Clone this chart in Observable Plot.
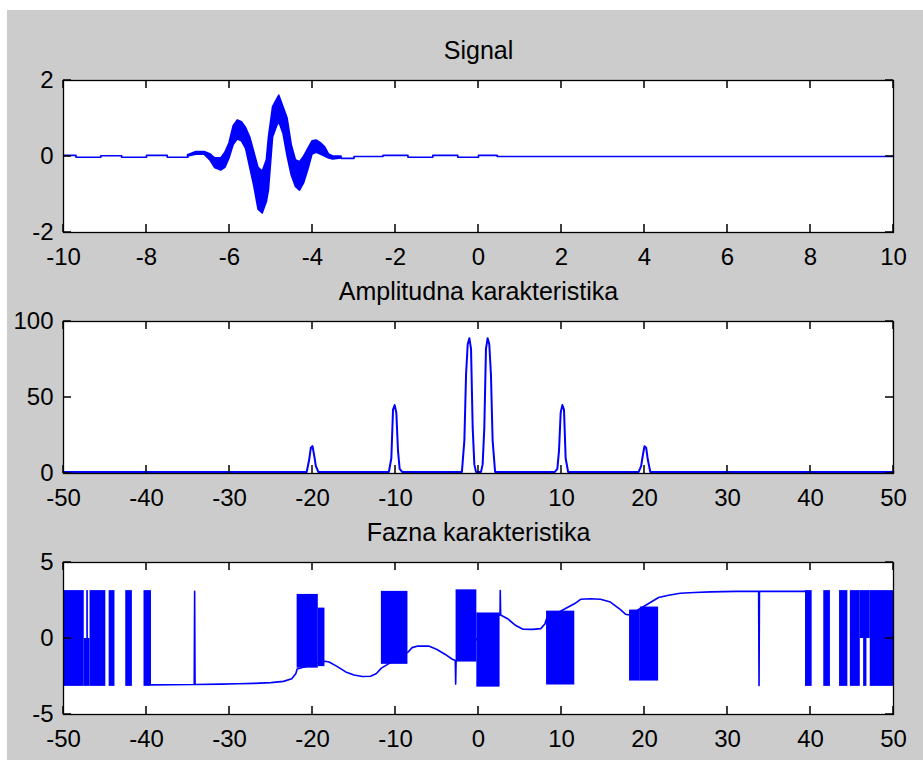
<!DOCTYPE html>
<html><head><meta charset="utf-8">
<script src="https://cdn.jsdelivr.net/npm/d3@7"></script>
<script src="https://cdn.jsdelivr.net/npm/@observablehq/plot@0.6"></script>
<style>
html,body{margin:0;padding:0;background:#ffffff;width:923px;height:760px;overflow:hidden;}
#fig{position:absolute;left:7px;top:10px;width:916px;height:750px;background:#cccccc;}
.sub{position:absolute;left:0;width:923px;}
</style></head><body>
<div id="fig"></div>
<div id="p1" class="sub" style="top:30px"></div>
<div id="p2" class="sub" style="top:271px"></div>
<div id="p3" class="sub" style="top:512px"></div>
<script>
// ---------- Data ----------
const titles = ["Signal", "Amplitudna karakteristika", "Fazna karakteristika"];

// Signal (time domain)
const sigXTicks = [-10, -8, -6, -4, -2, 0, 2, 4, 6, 8, 10];
const sigYTicks = [-2, 0, 2];
const sigHeadX = [-10, -9.7, -9.7, -9.1, -9.1, -8.6, -8.6, -8.0, -8.0, -7.5, -7.5, -7.0, -7.0];
const sigHeadY = [0.03, 0.03, -0.02, -0.02, 0.02, 0.02, -0.02, -0.02, 0.03, 0.03, -0.02, -0.02, 0];
const sigBandX = [-7.0, -6.8, -6.6, -6.45, -6.35, -6.2, -6.1, -6.0, -5.9, -5.8, -5.7, -5.6, -5.5, -5.4, -5.3, -5.2, -5.1, -5.05, -4.95, -4.85, -4.8, -4.7, -4.6, -4.5, -4.4, -4.3, -4.2, -4.1, -4.0, -3.9, -3.8, -3.7, -3.6, -3.5, -3.3];
const sigBandLo = [0, 0.05, 0.05, -0.12, -0.3, -0.37, -0.3, -0.05, 0.3, 0.45, 0.4, 0.2, -0.3, -0.8, -1.4, -1.5, -1.2, -0.9, 0.5, 0.8, 0.9, 0.6, 0.0, -0.5, -0.8, -0.9, -0.7, -0.35, 0.05, 0.1, 0.05, 0.0, -0.05, -0.08, -0.05];
const sigBandHi = [0.03, 0.12, 0.12, 0.05, -0.05, -0.05, 0.1, 0.35, 0.8, 0.95, 0.9, 0.75, 0.5, 0.1, -0.3, -0.4, -0.1, 0.5, 1.3, 1.5, 1.6, 1.3, 1.0, 0.3, -0.1, -0.15, 0.0, 0.2, 0.4, 0.42, 0.35, 0.25, 0.05, 0.0, 0.0];
const sigTailX = [-3.3, -3.0, -3.0, -2.3, -2.3, -1.7, -1.7, -1.1, -1.1, -0.5, -0.5, 0.0, 0.0, 0.45, 0.45, 10];
const sigTailY = [-0.05, -0.05, 0.0, 0.0, 0.03, 0.03, -0.02, -0.02, 0.03, 0.03, -0.02, -0.02, 0.03, 0.03, 0, 0];

// Amplitude spectrum
const freqTicks = [-50, -40, -30, -20, -10, 0, 10, 20, 30, 40, 50];
const ampYTicks = [0, 50, 100];
const ampX = [-50, -20.7, -20.4, -20.2, -20.0, -19.8, -19.6, -19.3,
  -10.8, -10.5, -10.3, -10.1, -9.9, -9.7, -9.5, -9.2,
  -2.0, -1.7, -1.5, -1.3, -1.1, -0.9, -0.7, -0.5, -0.3,
  0.3, 0.5, 0.7, 0.9, 1.1, 1.3, 1.5, 1.7, 2.0,
  9.2, 9.5, 9.7, 9.9, 10.1, 10.3, 10.5, 10.8,
  19.3, 19.6, 19.8, 20.0, 20.2, 20.4, 20.7, 50];
const ampY = [1, 1, 9, 17, 18, 12, 5, 1,
  1, 10, 42, 45, 40, 15, 3, 1,
  1, 22, 65, 85, 89, 82, 30, 6, 1,
  1, 6, 30, 82, 89, 85, 65, 22, 1,
  1, 3, 15, 40, 45, 42, 10, 1,
  1, 5, 12, 18, 17, 9, 1, 1];

// Phase spectrum
const phYTicks = [-5, 0, 5];
const phBlockX1 = [-50, -47.5, -47.2, -46.8, -44.5, -42.5, -40.3, -21.85, -19.3, -11.7, -2.7, -0.2, 8.2, 18.2, 19.5, 39.4, 41.6, 43.5, 44.8, 46.0, 46.4, 47.2];
const phBlockX2 = [-47.5, -46.8, -47.0, -44.9, -43.8, -41.7, -39.4, -19.3, -18.5, -8.5, -0.2, 2.6, 11.6, 19.5, 21.7, 40.2, 42.4, 44.5, 46.0, 47.2, 46.8, 50];
const phBlockY1 = [-3.15, -3.15, 0, -3.15, -3.15, -3.15, -3.15, -1.95, -1.85, -1.7, -1.55, -3.2, -3.06, -2.8, -2.8, -3.15, -3.15, -3.15, -3.15, 0, -3.15, -3.15];
const phBlockY2 = [3.15, 0, 3.15, 3.15, 3.15, 3.15, 3.15, 2.9, 2.0, 3.1, 3.2, 1.68, 1.8, 1.87, 2.07, 3.15, 3.15, 3.15, 3.15, 3.15, 0, 3.15];
const phLineX = [-39.4, -37, -34.25, -34.2, -34.15, -31, -29, -27, -25, -23.5, -22.5, -22.0, -21.85,
  -18.5, -18, -17, -16, -15, -14, -13, -12.3, -11.7,
  -8.5, -8.0, -7.3, -6, -5, -4, -3.2, -2.8, -2.75, -2.7,
  2.6, 2.62, 2.67, 3.5, 4.5, 5.3, 6.5, 7.5, 8.0, 8.2,
  11.6, 12.3, 13.5, 14.7, 15.9, 17.1, 17.7, 18.2,
  21.7, 22.9, 24.3, 26, 28, 31, 33.75, 33.8, 33.85, 39.4];
const phLineY = [-3.05, -3.04, -3.03, 3.1, -3.03, -3.0, -2.98, -2.95, -2.9, -2.82, -2.65, -2.3, -2.0,
  -1.5, -1.55, -1.85, -2.2, -2.4, -2.5, -2.48, -2.3, -1.95,
  -0.9, -0.6, -0.5, -0.5, -0.72, -1.05, -1.35, -1.45, -3.0, -1.5,
  1.6, 3.15, 1.55, 1.3, 0.85, 0.62, 0.6, 0.65, 0.95, 1.3,
  2.3, 2.58, 2.62, 2.58, 2.4, 1.9, 1.6, 1.55,
  2.7, 2.85, 2.98, 3.03, 3.07, 3.1, 3.1, -3.1, 3.1, 3.1];

// ---------- Drawing ----------
const blue = "#0000ff";
const font = '"Liberation Sans", Arial, Helvetica, sans-serif';
const fs = 24;
const tfs = 25;
const fmt = d => String(d);
const W = 923, H = 242, ML = 63, MR = 30, MT = 50, MB = 40;
const frameW = W - ML - MR, frameH = H - MT - MB;
const tl = 8;    // inward tick length, px
const tw = 1.5;  // tick thickness, px

function subplot(el, title, xDomain, xTicks, yDomain, yTicks, marks) {
  const [x0, x1] = xDomain, [y0, y1] = yDomain;
  const ly = (y1 - y0) * tl / frameH, lx = (x1 - x0) * tl / frameW;   // tick length in data units
  const wy = (y1 - y0) * tw / frameH / 2, wx = (x1 - x0) * tw / frameW / 2; // half thickness
  // tick rectangles (bottom, top) for x ticks and (left, right) for y ticks
  const xtA = xTicks.map(d => d - wx), xtB = xTicks.map(d => d + wx);
  const xtBot1 = xTicks.map(() => y0), xtBot2 = xTicks.map(() => y0 + ly);
  const xtTop1 = xTicks.map(() => y1 - ly), xtTop2 = xTicks.map(() => y1);
  const ytA = yTicks.map(d => d - wy), ytB = yTicks.map(d => d + wy);
  const ytL1 = yTicks.map(() => x0), ytL2 = yTicks.map(() => x0 + lx);
  const ytR1 = yTicks.map(() => x1 - lx), ytR2 = yTicks.map(() => x1);
  const p = Plot.plot({
    width: W, height: H,
    marginLeft: ML, marginRight: MR, marginTop: MT, marginBottom: MB,
    style: {background: "transparent", fontFamily: font, fontSize: fs + "px", color: "black", overflow: "visible"},
    x: {domain: xDomain, label: null},
    y: {domain: yDomain, label: null},
    marks: [
      Plot.frame({fill: "white"}),
      ...marks,
      Plot.rect(xtA, {x1: xtA, x2: xtB, y1: xtBot1, y2: xtBot2, fill: "#000000"}),
      Plot.rect(xtA, {x1: xtA, x2: xtB, y1: xtTop1, y2: xtTop2, fill: "#000000"}),
      Plot.rect(ytA, {y1: ytA, y2: ytB, x1: ytL1, x2: ytL2, fill: "#000000"}),
      Plot.rect(ytA, {y1: ytA, y2: ytB, x1: ytR1, x2: ytR2, fill: "#000000"}),
      Plot.frame({stroke: "black", strokeWidth: 1.3}),
      Plot.axisX(xTicks, {anchor: "bottom", tickSize: 0, tickPadding: 15, fontSize: fs, fill: "black", tickFormat: fmt, label: null}),
      Plot.axisY(yTicks, {anchor: "left", tickSize: 0, tickPadding: 10, fontSize: fs, fill: "black", tickFormat: fmt, label: null}),
      Plot.text([title], {text: d => d, frameAnchor: "top", dy: -30, lineAnchor: "middle", fontSize: tfs, fill: "black"})
    ]
  });
  document.getElementById(el).appendChild(p);
}

subplot("p1", titles[0], [-10, 10], sigXTicks, [-2, 2], sigYTicks, [
  Plot.line(sigHeadX, {x: sigHeadX, y: sigHeadY, stroke: blue, strokeWidth: 1.6}),
  Plot.areaY(sigBandX, {x: sigBandX, y1: sigBandLo, y2: sigBandHi, fill: blue, stroke: blue, strokeWidth: 1.6}),
  Plot.line(sigTailX, {x: sigTailX, y: sigTailY, stroke: blue, strokeWidth: 1.6})
]);

subplot("p2", titles[1], [-50, 50], freqTicks, [0, 100], ampYTicks, [
  Plot.line(ampX, {x: ampX, y: ampY, stroke: blue, strokeWidth: 2})
]);

subplot("p3", titles[2], [-50, 50], freqTicks, [-5, 5], phYTicks, [
  Plot.rect(phBlockX1, {x1: phBlockX1, x2: phBlockX2, y1: phBlockY1, y2: phBlockY2, fill: blue}),
  Plot.line(phLineX, {x: phLineX, y: phLineY, stroke: blue, strokeWidth: 1.6})
]);
</script>
</body></html>
